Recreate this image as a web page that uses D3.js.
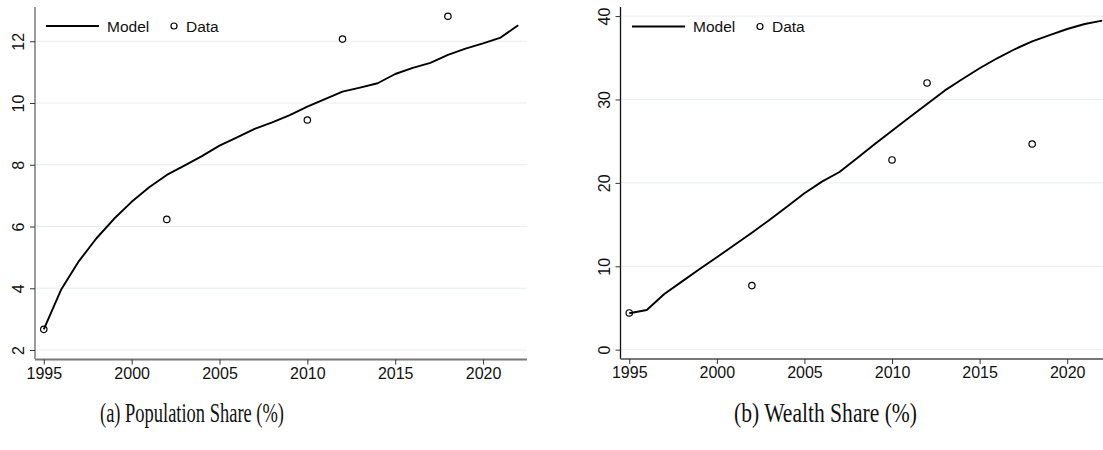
<!DOCTYPE html>
<html>
<head>
<meta charset="utf-8">
<script src="https://cdn.jsdelivr.net/npm/d3@7"></script>
<style>
  html, body { margin: 0; padding: 0; background: #fff; }
  svg { display: block; }
</style>
</head>
<body>
<svg id="fig" width="1103" height="450"></svg>
<script>
// Years covered by the simulated model path
const years = d3.range(1995, 2023);

// Model: population share (%), one value per year
const popModel = [2.67, 3.97, 4.88, 5.62, 6.25, 6.80, 7.27, 7.67, 7.97, 8.28, 8.62, 8.89,
  9.16, 9.37, 9.61, 9.88, 10.13, 10.37, 10.50, 10.64, 10.94, 11.14, 11.30, 11.56,
  11.76, 11.93, 12.12, 12.52];
// Survey observations of the population share (%)
const popDataYears = [1995, 2002, 2010, 2012, 2018];
const popDataValues = [2.67, 6.23, 9.45, 12.07, 12.81];

// Model: wealth share (%), one value per year
const wealthModel = [4.36, 4.76, 6.68, 8.16, 9.64, 11.08, 12.55, 14.03, 15.55, 17.15, 18.75, 20.15,
  21.3, 22.95, 24.63, 26.26, 27.86, 29.46, 31.06, 32.42, 33.74, 34.94, 36.02, 36.98,
  37.73, 38.45, 39.05, 39.45];
// Survey observations of the wealth share (%)
const wealthDataYears = [1995, 2002, 2010, 2012, 2018];
const wealthDataValues = [4.4, 7.68, 22.75, 31.98, 24.66];

// Axis tick values
const xTicks = [1995, 2000, 2005, 2010, 2015, 2020];
const popYTicks = [2, 4, 6, 8, 10, 12];
const wealthYTicks = [0, 10, 20, 30, 40];

const svg = d3.select("#fig");
const FONT = '"Liberation Sans", Arial, Helvetica, sans-serif';

function drawPanel(opt) {
  const g = svg.append("g");
  const x = d3.scaleLinear().domain([1994.5, 2022.5]).range([opt.left, opt.right]);
  const y = d3.scaleLinear().domain(opt.yDomain).range([opt.bottom, opt.top]);

  // horizontal grid
  g.append("g").selectAll("line").data(opt.yTicks).join("line")
    .attr("x1", opt.left).attr("x2", opt.right)
    .attr("y1", d => y(d)).attr("y2", d => y(d))
    .attr("stroke", "#e6eeee").attr("stroke-width", 1);

  // model path
  const line = d3.line().x((d, i) => x(years[i])).y(d => y(d));
  g.append("path").datum(opt.model)
    .attr("d", line)
    .attr("fill", "none").attr("stroke", "#000").attr("stroke-width", 1.9)
    .attr("stroke-linejoin", "round");

  // observed points
  g.append("g").selectAll("circle").data(opt.dataValues).join("circle")
    .attr("cx", (d, i) => x(opt.dataYears[i]))
    .attr("cy", d => y(d))
    .attr("r", 3.2)
    .attr("fill", "none").attr("stroke", "#000").attr("stroke-width", 1.2);

  // y axis
  const yAxis = g.append("g").attr("transform", `translate(${opt.left},0)`)
    .call(d3.axisLeft(y).tickValues(opt.yTicks).tickSize(5).tickSizeOuter(0).tickPadding(6));
  yAxis.select(".domain").attr("stroke", opt.yAxisColor).attr("stroke-width", 1.3)
    .attr("d", `M0,${opt.top}V${opt.bottom}`);
  yAxis.selectAll(".tick line").attr("stroke", "#333");
  yAxis.selectAll(".tick text")
    .attr("font-family", FONT).attr("font-size", 16).attr("fill", "#111")
    .attr("text-anchor", "middle")
    .attr("x", null).attr("dy", null)
    .attr("transform", "translate(-16.5,0) rotate(-90)")
    .attr("y", 0).attr("dominant-baseline", "central");

  // x axis
  const xAxis = g.append("g").attr("transform", `translate(0,${opt.axisY})`)
    .call(d3.axisBottom(x).tickValues(xTicks).tickFormat(d3.format("d")).tickSize(5).tickSizeOuter(0).tickPadding(3));
  xAxis.select(".domain").attr("stroke", "#777").attr("stroke-width", 2.2)
    .attr("d", `M${opt.left},0H${opt.right}`);
  xAxis.selectAll(".tick line").attr("stroke", "#333");
  xAxis.selectAll(".tick text")
    .attr("font-family", FONT).attr("font-size", 16).attr("fill", "#111");

  // legend
  const lg = g.append("g").attr("font-family", FONT).attr("font-size", 15.5).attr("fill", "#111");
  lg.append("line").attr("x1", opt.legX).attr("x2", opt.legX + 53)
    .attr("y1", opt.legY).attr("y2", opt.legY)
    .attr("stroke", "#000").attr("stroke-width", 1.9);
  lg.append("text").attr("x", opt.legX + 61).attr("y", opt.legY)
    .attr("dominant-baseline", "central").text("Model");
  lg.append("circle").attr("cx", opt.legX + 128).attr("cy", opt.legY).attr("r", 3)
    .attr("fill", "none").attr("stroke", "#000").attr("stroke-width", 1.2);
  lg.append("text").attr("x", opt.legX + 140).attr("y", opt.legY)
    .attr("dominant-baseline", "central").text("Data");

  // caption under the panel (condensed serif)
  svg.append("text")
    .attr("x", opt.capX).attr("y", 422)
    .attr("font-family", '"Liberation Serif", "Times New Roman", serif')
    .attr("font-size", 27).attr("fill", "#111")
    .attr("textLength", opt.capW).attr("lengthAdjust", "spacingAndGlyphs")
    .text(opt.caption);
}

drawPanel({
  left: 35, right: 527, top: 7, bottom: 359, axisY: 359.5,
  yDomain: [1.709, 13.11], yTicks: popYTicks,
  model: popModel, dataYears: popDataYears, dataValues: popDataValues,
  yAxisColor: "#666", legX: 46, legY: 26,
  caption: "(a) Population Share (%)", capX: 100, capW: 184
});

drawPanel({
  left: 620.5, right: 1111, top: 7, bottom: 359, axisY: 359,
  yDomain: [-1.12, 41.09], yTicks: wealthYTicks,
  model: wealthModel, dataYears: wealthDataYears, dataValues: wealthDataValues,
  yAxisColor: "#111", legX: 632, legY: 26.5,
  caption: "(b) Wealth Share (%)", capX: 734, capW: 183
});
</script>
</body>
</html>
